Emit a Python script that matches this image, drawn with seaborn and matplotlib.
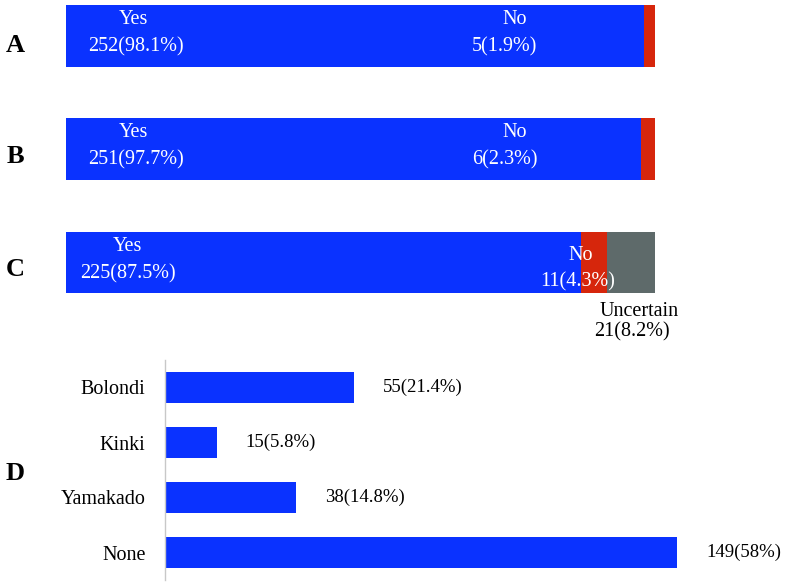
import matplotlib
matplotlib.use("Agg")
import matplotlib.pyplot as plt
import seaborn as sns
import pandas as pd

# panels A-C: stacked percentage bars
a_labels = ["Yes", "No"]
a_counts = [252, 5]
a_pcts = [98.1, 1.9]

b_labels = ["Yes", "No"]
b_counts = [251, 6]
b_pcts = [97.7, 2.3]

c_labels = ["Yes", "No", "Uncertain"]
c_counts = [225, 11, 21]
c_pcts = [87.5, 4.3, 8.2]

# panel D
d_cats = ["Bolondi", "Kinki", "Yamakado", "None"]
d_counts = [55, 15, 38, 149]
d_pcts = ["21.4%", "5.8%", "14.8%", "58%"]

BLUE = "#0A32FF"
RED = "#D6260C"
GREY = "#5E6A6A"
SEG_COLORS = [BLUE, RED, GREY]

sns.set_theme(style="white")
plt.rcParams["font.family"] = ["Liberation Serif", "DejaVu Serif"]

W, H = 787, 585
fig = plt.figure(figsize=(W / 100, H / 100), dpi=100)
FS = 14.5


def px_axes(x0, y0, x1, y1):
    return fig.add_axes([x0 / W, 1 - y1 / H, (x1 - x0) / W, (y1 - y0) / H])


def stacked(ax, pcts):
    # draw cumulative bars from the longest back to the shortest
    cum = pd.Series(pcts).cumsum().tolist()
    for i in reversed(range(len(pcts))):
        df = pd.DataFrame({"grp": ["x"], "val": [cum[i]]})
        sns.barplot(data=df, x="val", y="grp", orient="h", color=SEG_COLORS[i],
                    width=1.0, saturation=1, ax=ax, edgecolor="none")
    ax.set_xlim(0, 100)
    ax.set_ylim(0.5, -0.5)
    ax.axis("off")


def label_pair(ax, x_top, x_bot, top, bottom, y_top=0.76, y_bot=0.32, color="white"):
    tr = ax.get_xaxis_transform()
    ax.text(x_top, y_top, top, transform=tr, ha="center", va="center", color=color,
            fontsize=FS, clip_on=False)
    ax.text(x_bot, y_bot, bottom, transform=tr, ha="center", va="center", color=color,
            fontsize=FS, clip_on=False)


# Panel A
axA = px_axes(66, 5, 655, 67)
stacked(axA, a_pcts)
label_pair(axA, 11.4, 11.9, a_labels[0], f"{a_counts[0]}({a_pcts[0]}%)")
label_pair(axA, 76.2, 74.5, a_labels[1], f"{a_counts[1]}({a_pcts[1]}%)")

# Panel B
axB = px_axes(66, 118, 655, 180)
stacked(axB, b_pcts)
label_pair(axB, 11.4, 11.9, b_labels[0], f"{b_counts[0]}({b_pcts[0]}%)")
label_pair(axB, 76.2, 74.5, b_labels[1], f"{b_counts[1]}({b_pcts[1]}%)")

# Panel C
axC = px_axes(66, 232, 655, 293)
stacked(axC, c_pcts)
label_pair(axC, 10.4, 10.6, c_labels[0], f"{c_counts[0]}({c_pcts[0]}%)")
label_pair(axC, 87.4, 86.8, c_labels[1], f"{c_counts[1]}({c_pcts[1]}%)",
           y_top=0.62, y_bot=0.18)
label_pair(axC, 97.3, 96.1, c_labels[2], f"{c_counts[2]}({c_pcts[2]}%)",
           y_top=-0.3, y_bot=-0.63, color="black")

# Panel D
axD = px_axes(165, 360, 715, 580)
dfD = pd.DataFrame({"cat": d_cats, "n": d_counts})
sns.barplot(data=dfD, x="n", y="cat", orient="h", color=BLUE, saturation=1,
            width=0.56, ax=axD, edgecolor="none")
axD.set_xlim(0, 160)
axD.set_ylim(3.5, -0.5)
for i, (n, p) in enumerate(zip(d_counts, d_pcts)):
    axD.text(n + 8.5, i, f"{n}({p})", ha="left", va="center", fontsize=13.5,
             color="black", clip_on=False)
axD.set_xlabel("")
axD.set_ylabel("")
axD.set_xticks([])
axD.tick_params(axis="y", length=0, pad=14, labelsize=FS, labelcolor="black")
for s in ["top", "right", "bottom"]:
    axD.spines[s].set_visible(False)
axD.spines["left"].set_color("#C8C8C8")
axD.spines["left"].set_linewidth(1)

# panel letters
for letter, ypx in [("A", 45), ("B", 157), ("C", 270), ("D", 474)]:
    fig.text(15 / W, 1 - ypx / H, letter, ha="center", va="center",
             fontsize=19, fontweight="bold", color="black")

fig.savefig("out.png", dpi=100)
